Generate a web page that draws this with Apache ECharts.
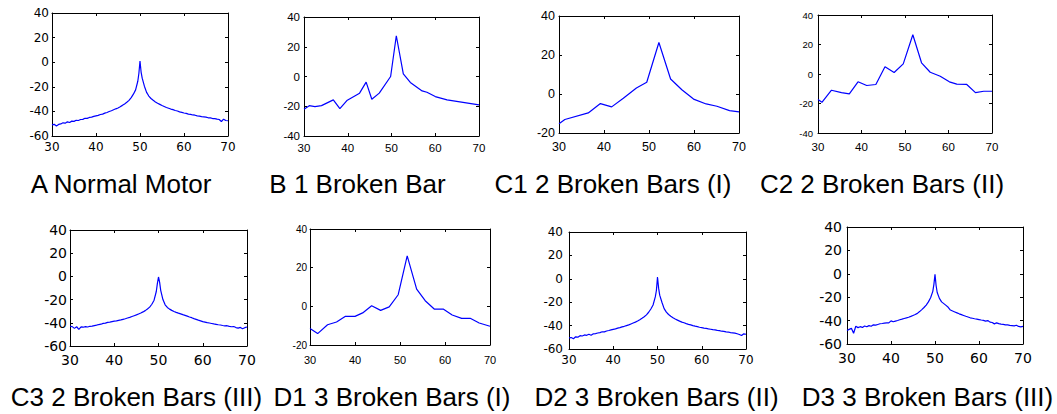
<!DOCTYPE html>
<html><head><meta charset="utf-8">
<script src="https://cdn.jsdelivr.net/npm/echarts@6/dist/echarts.min.js"></script>
<style>html,body{margin:0;padding:0;background:#fff}#c{width:1057px;height:414px}</style>
</head><body><div id="c"></div>
<script>
// ---------- DATA ----------
const titles = ['A Normal Motor', 'B 1 Broken Bar', 'C1 2 Broken Bars (I)', 'C2 2 Broken Bars (II)',
  'C3 2 Broken Bars (III)', 'D1 3 Broken Bars (I)', 'D2 3 Broken Bars (II)', 'D3 3 Broken Bars (III)'];

const xMin = 30, xMax = 70, xStep = 10;
const yMax = 40, yStep = 20;
const yMins = [-60, -40, -20, -40, -60, -20, -60, -60];

// dense frequency axis (Hz) shared by A, C3, D2, D3
const xDense = [30,30.5,31,31.5,32,32.5,33,33.5,34,34.5,35,35.5,36,36.5,37,37.5,38,38.5,39,39.5,
  40,40.5,41,41.5,42,42.5,43,43.5,44,44.5,45,45.5,46,46.5,47,47.5,48,48.5,49,
  49.5,49.75,50,50.25,50.5,
  51,51.5,52,52.5,53,53.5,54,54.5,55,55.5,56,56.5,57,57.5,58,58.5,59,59.5,60,60.5,
  61,61.5,62,62.5,63,63.5,64,64.5,65,65.5,66,66.5,67,67.5,68,68.5,69,69.5,70];

const yA = [-51,-50.5,-51.8,-50.6,-50.2,-49.3,-49.6,-48.5,-49.0,-47.9,-48.1,-47.2,-47.4,-46.6,-46.5,-45.6,-45.7,-44.9,-44.6,-44.0,
  -43.6,-43.2,-42.5,-42.2,-41.4,-40.9,-40.1,-39.5,-38.7,-37.9,-37.2,-36.2,-35.1,-33.9,-32.6,-31.0,-28.8,-26.0,-22.5,
  -15.5,-9,1,-8,-13,
  -19.5,-24.5,-27.5,-29.5,-31,-32.3,-33.4,-34.3,-35.2,-36.0,-36.8,-37.4,-38.1,-38.6,-39.3,-39.7,-40.4,-40.8,-41.3,-41.6,
  -42.2,-42.4,-42.9,-43.1,-43.6,-43.8,-44.3,-44.5,-44.7,-45.2,-45.3,-45.8,-45.9,-46.3,-46.6,-48.2,-46.3,-47.4,-47.6];

const yC3 = [-43,-43.3,-44.8,-43.4,-45.6,-43.5,-43.8,-43.3,-43.6,-43.0,-42.9,-42.4,-42.0,-41.5,-41.2,-40.5,-40.3,-39.6,-39.4,-39.0,
  -38.6,-38.4,-37.9,-37.5,-37.0,-36.5,-35.9,-35.3,-34.6,-33.9,-33.2,-32.4,-31.6,-30.6,-29.5,-28.1,-26.5,-24.0,-20.5,
  -13,-6,-0.5,-5,-12,
  -20,-24.5,-26.8,-28.2,-29.3,-30.2,-31.0,-31.7,-32.3,-33.0,-33.6,-34.3,-35.0,-35.6,-36.4,-37.0,-37.7,-38.3,-39.0,-39.4,
  -39.9,-40.2,-40.6,-41.0,-41.3,-41.7,-41.9,-42.3,-42.6,-42.5,-43.1,-43.4,-43.2,-44.1,-44.6,-44.0,-45.1,-44.2,-43.6];

const yD2 = [-50.5,-50.2,-51.2,-49.6,-49.9,-48.6,-48.9,-48.0,-48.3,-47.4,-48.2,-47.0,-46.8,-46.3,-46.0,-45.3,-45.4,-44.6,-44.2,-43.7,
  -43.2,-42.8,-42.2,-41.7,-41.1,-40.6,-40.0,-39.4,-38.6,-37.8,-37.0,-36.1,-35.0,-33.8,-32.4,-30.8,-28.6,-25.8,-22.4,
  -15.5,-10,1.5,-8,-14,
  -20,-25.5,-28.5,-30.5,-32,-33.3,-34.4,-35.3,-36.2,-37.0,-37.6,-38.3,-38.9,-39.4,-40.0,-40.5,-40.9,-41.4,-41.7,-42.1,
  -42.4,-42.8,-43.1,-43.5,-43.7,-44.1,-44.3,-44.8,-45.0,-45.4,-45.5,-46.0,-46.2,-46.5,-47.0,-47.6,-48.5,-47.0,-47.4];

const yD3 = [-48.5,-47.5,-46.5,-50.8,-44.8,-46.0,-45.2,-45.8,-44.6,-45.3,-44.3,-44.8,-43.6,-43.9,-43.3,-42.7,-42.5,-42.2,-42.0,-41.9,
  -40.2,-41.0,-40.4,-39.9,-39.3,-38.8,-38.2,-37.7,-37.1,-36.4,-35.6,-34.8,-33.8,-32.3,-30.6,-28.8,-26.7,-24.0,-20.5,
  -15,-9,-0.5,-10,-16,
  -21,-24,-25.5,-27.0,-28.6,-31.0,-31.8,-32.6,-33.4,-34.2,-34.9,-35.6,-36.3,-36.9,-37.6,-38.0,-38.4,-38.7,-39.1,-39.5,
  -39.8,-40.4,-40.0,-41.3,-41.6,-42.8,-41.9,-42.6,-43.0,-43.2,-43.6,-43.7,-44.1,-44.3,-44.5,-44.0,-45.0,-45.4,-45.0];

const xB = [30,31.2,32.5,34,36.7,38.2,39.8,42.7,44.2,45.5,47.2,49.8,51.1,52.7,54.3,57,58.1,60,62.7,70];
const yB = [-22,-19.6,-20.2,-19.6,-15.7,-21.6,-16.2,-11.2,-3.8,-15.3,-11.2,0,27.4,1.8,-4,-9.7,-10.6,-13.5,-15.7,-19.1];

const xC1 = [30,31.3,36.5,39.2,41.7,44.3,47.2,49.5,52.2,54.8,57.3,59.9,62.7,65.1,67.9,70];
const yC1 = [-15.2,-13.1,-9.7,-4.9,-6.6,-2.2,3.1,6,26.4,7.7,2.2,-2.6,-5.1,-6.3,-8.5,-9.2];

const xC2 = [30,30.9,33.1,35.4,37.2,39.2,41.2,43.3,45.4,47.5,49.6,51.8,53.8,55.8,58.1,60.2,61.9,64.2,66.2,68.1,70];
const yC2 = [-17.3,-19.2,-11,-12.6,-13.5,-5.3,-7.8,-7.1,4.9,1,6.9,26.6,7.6,1.2,-1.5,-5.3,-6.9,-7.1,-12.6,-11.7,-11.7];

const xD1 = [30,31.7,33.9,35.9,37.8,40,41.7,43.7,45.7,47.6,49.6,51.6,53.7,55.6,57.6,59.6,61.6,63.7,65.6,67.6,70];
const yD1 = [-11.5,-14.1,-9.5,-8.1,-5.2,-5.2,-3.4,0.3,-2.1,-0.3,6,26.1,8.9,2.9,-1.4,-1.4,-4.5,-6.2,-6.2,-8.6,-10.3];

const seriesX = [xDense, xB, xC1, xC2, xDense, xD1, xDense, xDense];
const seriesY = [yA, yB, yC1, yC2, yC3, yD1, yD2, yD3];

// ---------- LAYOUT / STYLE ----------
const WIDE = "'DejaVu Sans', sans-serif";
const ARIAL = "'Liberation Sans', Arial, sans-serif";
const layout = [
  {l:52,  t:13,  w:176, h:123, tx:121,   ty:184, yf:WIDE,  ys:12,   xf:WIDE,  xs:12,   xm:5, ym:3},
  {l:304, t:17,  w:175, h:119, tx:357.5, ty:184, yf:ARIAL, ys:11.5, xf:ARIAL, xs:11.5, xm:6, ym:4},
  {l:559, t:16,  w:180, h:117, tx:613,   ty:184, yf:ARIAL, ys:12.5, xf:ARIAL, xs:12.5, xm:7, ym:4},
  {l:818, t:15,  w:174, h:118, tx:882,   ty:184, yf:ARIAL, ys:9.5,  xf:ARIAL, xs:11.5, xm:8, ym:5},
  {l:70,  t:230, w:177, h:116, tx:136.5, ty:397, yf:WIDE,  ys:14,   xf:WIDE,  xs:14,   xm:7, ym:3},
  {l:310, t:229, w:180, h:116, tx:392,   ty:397, yf:ARIAL, ys:10,   xf:ARIAL, xs:11,   xm:9, ym:3},
  {l:569, t:232, w:177, h:117, tx:656.5, ty:397, yf:WIDE,  ys:12,   xf:WIDE,  xs:12,   xm:5, ym:6},
  {l:847, t:227, w:176, h:117, tx:927.5, ty:397, yf:WIDE,  ys:14,   xf:WIDE,  xs:14,   xm:7, ym:5}
];

const grids = [], xAxes = [], yAxes = [], series = [], graphics = [];
const line = {show:true, onZero:false, lineStyle:{color:'#000', width:1}};
const tick = {show:true, inside:true, length:3, lineStyle:{color:'#000', width:1}};
layout.forEach((L, i) => {
  grids.push({left:L.l, top:L.t, width:L.w, height:L.h, containLabel:false});
  ['bottom','top'].forEach((pos, k) => {
    xAxes.push({type:'value', gridIndex:i, position:pos, min:xMin, max:xMax, interval:xStep,
      axisLine:line, axisTick:tick, splitLine:{show:false},
      axisLabel:{show:k===0, color:'#000', fontFamily:L.xf, fontSize:L.xs, margin:L.xm}});
  });
  ['left','right'].forEach((pos, k) => {
    yAxes.push({type:'value', gridIndex:i, position:pos, min:yMins[i], max:yMax, interval:yStep,
      axisLine:line, axisTick:tick, splitLine:{show:false},
      axisLabel:{show:k===0, color:'#000', fontFamily:L.yf, fontSize:L.ys, margin:L.ym}});
  });
  series.push({type:'line', xAxisIndex:2*i, yAxisIndex:2*i, showSymbol:false, symbol:'none',
    data: seriesX[i].map((x, j) => [x, seriesY[i][j]]),
    lineStyle:{color:'#0000ff', width:1.2}, itemStyle:{color:'#0000ff'}, silent:true});
  graphics.push({type:'text', x:L.tx, y:L.ty,
    style:{text:titles[i], fontFamily:ARIAL, fontSize:26, fill:'#000', align:'center', verticalAlign:'middle'}});
});

const chart = echarts.init(document.getElementById('c'), null, {renderer:'svg'});
chart.setOption({
  animation:false,
  backgroundColor:'#fff',
  grid:grids, xAxis:xAxes, yAxis:yAxes, series:series, graphic:graphics
});
</script></body></html>
